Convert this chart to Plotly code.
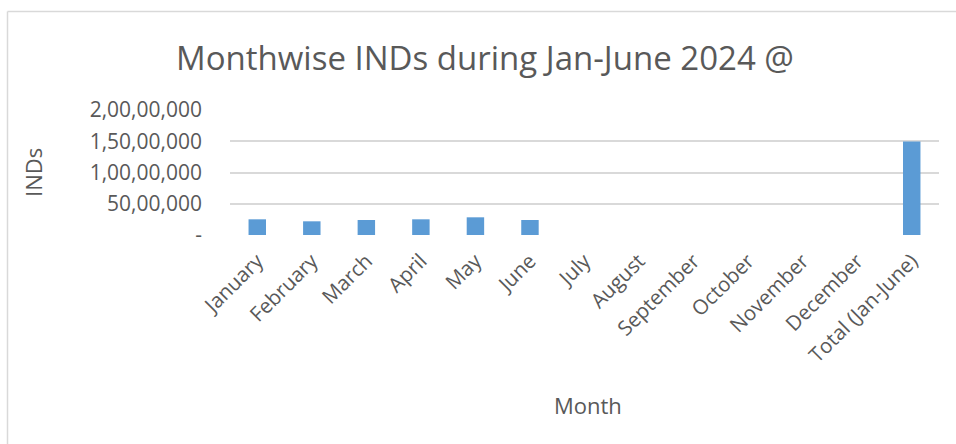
import plotly.graph_objects as go

months = ["January", "February", "March", "April", "May", "June", "July",
          "August", "September", "October", "November", "December", "Total (Jan-June)"]
inds = [2510000, 2190000, 2400000, 2510000, 2830000, 2400000, None,
        None, None, None, None, None, 14950000]
ytick_vals = [0, 5000000, 10000000, 15000000, 20000000]
ytick_text = ["-", "50,00,000", "1,00,00,000", "1,50,00,000", "2,00,00,000"]

W, H = 956, 444
L, R, T, B = 230, 17, 110, 209
pw, ph = W - L - R, H - T - B

def px_x(x):
    return (x - L) / pw

def px_y(y):
    return (H - B - y) / ph

font_fam = "Open Sans, Lato, sans-serif"
grey = "#595959"

fig = go.Figure(go.Bar(x=months, y=inds, marker_color="#5b9bd5", marker_line_width=0))

fig.update_layout(
    width=W, height=H,
    margin=dict(l=L, r=R, t=T, b=B, autoexpand=False),
    paper_bgcolor="white", plot_bgcolor="white",
    bargap=0.68,
    showlegend=False,
    font=dict(family=font_fam, color=grey),
    title=dict(text="Monthwise INDs during Jan-June 2024 @", x=485 / W, xanchor="center",
               y=1 - 58 / H, yanchor="middle",
               font=dict(size=33, color=grey, family=font_fam)),
)
fig.update_xaxes(tickangle=-45, tickfont=dict(size=20.5, color=grey), showgrid=False,
                 showline=False, ticks="", automargin=False, ticklabelstandoff=9)
fig.update_yaxes(range=[0, 20000000], tickvals=ytick_vals, ticktext=ytick_text,
                 tickfont=dict(size=21, color=grey), showgrid=True, gridcolor="#d9d9d9",
                 gridwidth=1.5, zeroline=False, showline=False, ticks="", ticklabelstandoff=27,
                 automargin=False)

fig.add_annotation(text="Month", xref="paper", yref="paper", x=px_x(588), y=px_y(405),
                   xanchor="center", yanchor="middle",
                   showarrow=False, font=dict(size=22, color=grey, family=font_fam))
fig.add_annotation(text="INDs", xref="paper", yref="paper", x=px_x(33), y=px_y(173),
                   xanchor="center", yanchor="middle",
                   showarrow=False, textangle=-90, font=dict(size=22, color=grey, family=font_fam))

# chart-area border (left and top edges visible)
fig.add_shape(type="line", xref="paper", yref="paper",
              x0=px_x(7.5), x1=px_x(7.5), y0=px_y(460), y1=px_y(11.5),
              line=dict(color="#d9d9d9", width=1.5), layer="below")
fig.add_shape(type="line", xref="paper", yref="paper",
              x0=px_x(7.5), x1=px_x(970), y0=px_y(11.5), y1=px_y(11.5),
              line=dict(color="#d9d9d9", width=1.5), layer="below")

fig.write_html("out.html", config={"displayModeBar": False},
               post_script="document.body.style.margin='0px';")
